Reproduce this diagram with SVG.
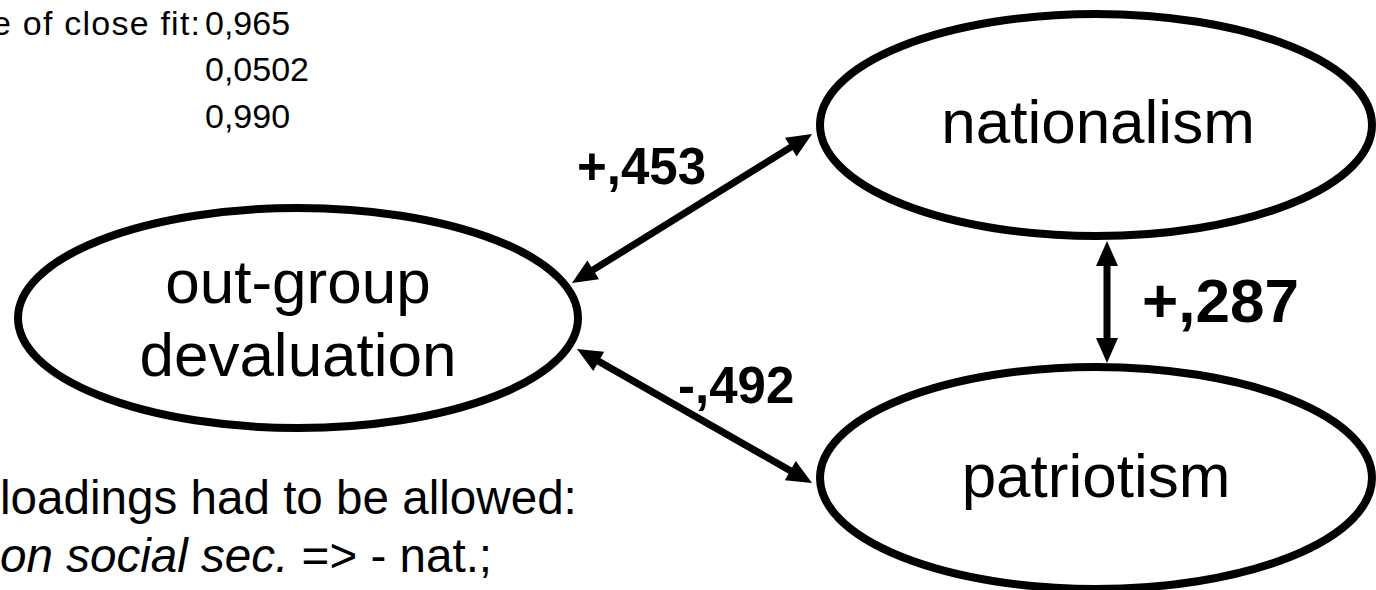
<svg xmlns="http://www.w3.org/2000/svg" width="1376" height="590" viewBox="0 0 1376 590">
  <style>
    .node { fill: #ffffff; stroke: #000000; stroke-width: 8; }
    .label { font-family: "Liberation Sans", Arial, sans-serif; font-size: 62px; fill: #000000; text-anchor: middle; }
    .coef { font-family: "Liberation Sans", Arial, sans-serif; font-weight: bold; fill: #000000; }
    .note { font-family: "Liberation Sans", Arial, sans-serif; fill: #000000; }
    .edge { stroke: #000000; stroke-width: 7; fill: none; marker-start: url(#head); marker-end: url(#head); }
  </style>
  <defs>
    <marker id="head" markerUnits="userSpaceOnUse" markerWidth="26" markerHeight="24" refX="10" refY="11" orient="auto-start-reverse" overflow="visible">
      <path d="M0,0 L25,11 L0,22 Z" fill="#000000"/>
    </marker>
  </defs>

  <!-- fit indices -->
  <g id="fit-indices" class="note" font-size="34">
    <text x="-8" y="35" textLength="208" lengthAdjust="spacing">e of close fit:</text>
    <text x="205" y="35">0,965</text>
    <text x="205" y="81">0,0502</text>
    <text x="205" y="128">0,990</text>
  </g>

  <!-- latent factors -->
  <g id="node-outgroup">
    <ellipse class="node" cx="298" cy="318" rx="280" ry="110"/>
    <text class="label" x="298" y="303">out-group</text>
    <text class="label" x="298" y="376">devaluation</text>
  </g>
  <g id="node-nationalism">
    <ellipse class="node" cx="1096" cy="125" rx="276" ry="111"/>
    <text class="label" x="1098" y="143">nationalism</text>
  </g>
  <g id="node-patriotism">
    <ellipse class="node" cx="1096" cy="478" rx="276" ry="111"/>
    <text class="label" x="1096" y="497">patriotism</text>
  </g>

  <!-- correlations between factors -->
  <g id="connectors">
    <line class="edge" x1="584.7" y1="275.1" x2="799.3" y2="141.9"/>
    <line class="edge" x1="590" y1="356.4" x2="799" y2="475.6"/>
    <line class="edge" x1="1107" y1="256" x2="1107" y2="348"/>
  </g>

  <g id="coefficients" class="coef">
    <text x="577" y="184" font-size="51">+,453</text>
    <text x="678" y="403" font-size="51">-,492</text>
    <text x="1142" y="322" font-size="62">+,287</text>
  </g>

  <!-- remark on cross loadings -->
  <g id="remark" class="note" font-size="47.6">
    <text x="0" y="514">loadings had to be allowed:</text>
    <text x="0" y="572"><tspan font-style="italic">on social sec.</tspan> =&gt; - nat.;</text>
  </g>
</svg>
